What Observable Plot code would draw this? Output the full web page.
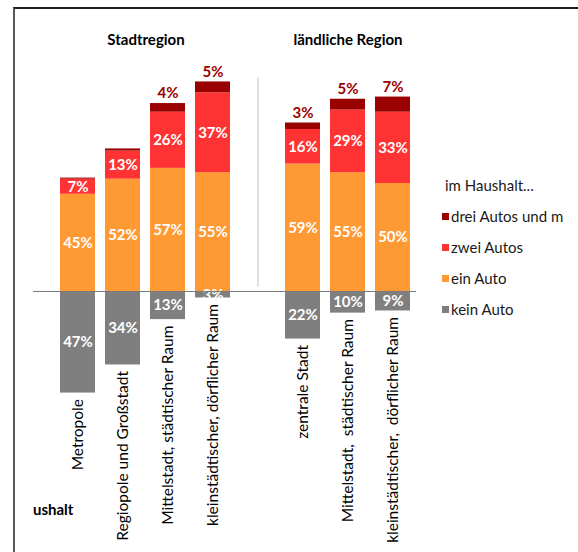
<!DOCTYPE html>
<html><head><meta charset="utf-8">
<script src="https://cdn.jsdelivr.net/npm/d3@7"></script>
<script src="https://cdn.jsdelivr.net/npm/@observablehq/plot@0.6"></script>
<style>
body{margin:0;background:#fff;font-family:Lato,"Open Sans",sans-serif}
#wrap{position:relative;width:578px;height:552px;overflow:hidden;background:#fff}
#frame{position:absolute;left:13px;top:7px;right:-5px;bottom:-5px;border-top:2px solid #1e1e1e;border-left:2px solid #585858;pointer-events:none}
#chart{position:absolute;left:0;top:0}
#legend{position:absolute;left:442px;top:170px;font-size:15px;color:#1a1a1a;white-space:nowrap}
#legend .row{height:31px;line-height:31px;display:flex;align-items:center}
#legend .title{padding-left:3px}
#legend .sw{width:7px;height:7px;margin-right:2px;display:inline-block}
</style></head><body>
<div id="wrap"><div id="chart"></div><div id="legend"></div><div id="frame"></div></div>
<script>
// categories (the "|" slot is the gap between the two groups)
const categories = ["Metropole", "Regiopole und Großstadt", "Mittelstadt, städtischer Raum", "kleinstädtischer, dörflicher Raum", "|", "zentrale Stadt", "Mittelstadt,  städtischer Raum", "kleinstädtischer,  dörflicher Raum"];
const groupTitles = ["Stadtregion", "ländliche Region"];
const groupAnchors = ["Regiopole und Großstadt", "Mittelstadt,  städtischer Raum"];
const groupAnchorOffsets = [23, 0];
const seriesKeys = ["kein", "ein", "zwei", "drei"];
const seriesLabels = ["kein Auto", "ein Auto", "zwei Autos", "drei Autos und m"];
const seriesColors = ["#7f7f7f", "#ff9933", "#ff3333", "#990000"];
const kein = [47, 34, 13, 3, null, 22, 10, 9];
const ein  = [45, 52, 57, 55, null, 59, 55, 50];
const zwei = [7, 13, 26, 37, null, 16, 29, 33];
const drei = [0.5, 1, 4, 5, null, 3, 5, 7];
const legendTitle = "im Haushalt...";
const footText = "ushalt";

const values = {kein, ein, zwei, drei};
const long = [];
categories.forEach((c, i) => {
  if (c === "|") return;
  seriesKeys.forEach(s => {
    const v = values[s][i];
    long.push({cat: c, series: s, raw: v, value: s === "kein" ? -v : v});
  });
});
const totals = categories.map((c, i) => ({cat: c, kein: kein[i], up: (ein[i] ?? 0) + (zwei[i] ?? 0) + (drei[i] ?? 0), drei: drei[i]})).filter(d => d.cat !== "|");

const color = {domain: seriesKeys, range: seriesColors};
const FONT = "Lato, 'Open Sans', sans-serif";

const chart = Plot.plot({
  width: 578,
  height: 552,
  marginLeft: 33,
  marginRight: 162,
  marginTop: 0,
  marginBottom: 0,
  style: {fontFamily: FONT, background: "transparent"},
  x: {domain: categories, type: "band", range: [52.75, 416.75], paddingInner: 0.23, paddingOuter: 0.115, axis: null},
  y: {domain: [-120.8, 134.7], axis: null},
  color,
  marks: [
    Plot.ruleX(["|"], {x: d => d, y1: 2, y2: 99, stroke: "#c4c4c4", strokeWidth: 1}),
    Plot.barY(long, Plot.stackY({x: "cat", y: "value", z: "series", order: seriesKeys, fill: "series"})),
    Plot.text(long.filter(d => d.series !== "drei"), Plot.stackY({x: "cat", y: "value", z: "series", order: seriesKeys, text: d => d.raw + "%", fill: "white", fontWeight: "bold", fontSize: 15})),
    Plot.text(totals.filter(d => d.drei >= 3), {x: "cat", y: "up", text: d => d.drei + "%", fill: "#990000", fontWeight: "bold", fontSize: 15, dy: -10}),
    Plot.ruleY([0], {stroke: "#7a7a7a", strokeWidth: 1}),
    Plot.text(totals, {x: "cat", y: d => -d.kein, text: "cat", rotate: -90, textAnchor: "end", dy: 6, fill: "#000", fontSize: 15.5}),
    Plot.text(groupTitles, {x: (d, i) => groupAnchors[i], text: d => d, frameAnchor: "top", lineAnchor: "middle", dy: 40, fontWeight: "bold", fontSize: 15, fill: "#000"}),
  ]
});
document.getElementById("chart").appendChild(chart);
// shift first group title by half a band step (between two bars)
const titles = chart.querySelectorAll("g[aria-label='text']");
const tg = titles[titles.length - 1];
tg.querySelectorAll("text").forEach((t, i) => {
  const tr = t.getAttribute("transform") || "";
  t.setAttribute("transform", `translate(${groupAnchorOffsets[i]},0) ` + tr);
});
// clipped foot text
const svgNS = "http://www.w3.org/2000/svg";
const ft = document.createElementNS(svgNS, "text");
ft.setAttribute("x", 33); ft.setAttribute("y", 515);
ft.setAttribute("text-anchor", "start");
ft.setAttribute("font-family", FONT);
ft.setAttribute("font-weight", "bold"); ft.setAttribute("font-size", 15); ft.setAttribute("fill", "#000");
ft.textContent = footText;
chart.appendChild(ft);

const lg = document.getElementById("legend");
const tr0 = document.createElement("div"); tr0.className = "row title"; tr0.textContent = legendTitle; lg.appendChild(tr0);
[3, 2, 1, 0].forEach(i => {
  const r = document.createElement("div"); r.className = "row";
  const sw = document.createElement("span"); sw.className = "sw"; sw.style.background = seriesColors[i];
  r.appendChild(sw); r.appendChild(document.createTextNode(seriesLabels[i]));
  lg.appendChild(r);
});
</script>
</body></html>
